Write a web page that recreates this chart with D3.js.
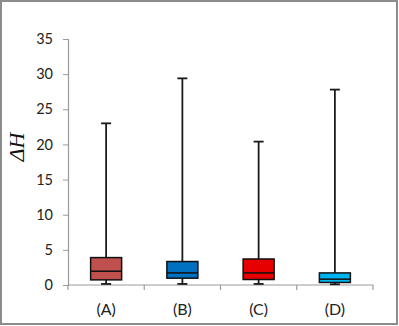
<!DOCTYPE html>
<html>
<head>
<meta charset="utf-8">
<script src="https://cdn.jsdelivr.net/npm/d3@7"></script>
<style>
  body { margin: 0; background: #fff; }
  text { font-family: Lato, "Open Sans", sans-serif; }
</style>
</head>
<body>
<div id="chart"></div>
<script>
// box plot stats
const categories = ["(A)", "(B)", "(C)", "(D)"];
const mins = [0.15, 0.15, 0.15, 0.1];
const q1s = [0.73, 0.97, 0.78, 0.36];
const medians = [1.96, 1.72, 1.72, 0.83];
const q3s = [3.9, 3.34, 3.7, 1.72];
const maxs = [23.0, 29.4, 20.4, 27.8];
const colors = ["#c0504d", "#0070c0", "#e60000", "#00b4f0"];
const yTicks = [0, 5, 10, 15, 20, 25, 30, 35];

const width = 399, height = 326;
const margin = { top: 39, right: 26, bottom: 41, left: 68 };

const svg = d3.select("#chart").append("svg")
  .attr("width", width)
  .attr("height", height);

// outer frame
svg.append("rect")
  .attr("x", 1).attr("y", 1)
  .attr("width", 396).attr("height", 323)
  .attr("fill", "#fff")
  .attr("stroke", "#8c8c8c")
  .attr("stroke-width", 2);

const x = d3.scaleBand()
  .domain(categories)
  .range([margin.left, width - margin.right]);

const y = d3.scaleLinear()
  .domain([0, 35])
  .range([height - margin.bottom, margin.top]);

// y axis
const yAxis = svg.append("g")
  .attr("transform", `translate(${margin.left},0)`)
  .call(d3.axisLeft(y).tickValues(yTicks).tickSize(5).tickPadding(10));
yAxis.select(".domain").attr("stroke", "#9a9a9a").attr("stroke-width", 1.2);
yAxis.selectAll(".tick line").attr("stroke", "#9a9a9a");
yAxis.selectAll(".tick text").attr("font-size", 14.5).attr("fill", "#222");

// x axis: ticks at band boundaries
const xAxisG = svg.append("g");
xAxisG.append("line")
  .attr("x1", margin.left).attr("x2", width - margin.right)
  .attr("y1", y(0)).attr("y2", y(0))
  .attr("stroke", "#9a9a9a").attr("stroke-width", 1.2);
const bounds = categories.map(c => x(c)).concat([width - margin.right]);
xAxisG.selectAll("line.tk")
  .data(bounds)
  .enter()
  .append("line")
  .attr("class", "tk")
  .attr("x1", d => d).attr("x2", d => d)
  .attr("y1", y(0)).attr("y2", y(0) + 5)
  .attr("stroke", "#9a9a9a").attr("stroke-width", 1.2);
xAxisG.selectAll("text")
  .data(categories)
  .enter()
  .append("text")
  .attr("x", d => x(d) + x.bandwidth() / 2)
  .attr("y", y(0) + 30)
  .attr("text-anchor", "middle")
  .attr("font-size", 16)
  .attr("fill", "#222")
  .text(d => d);

// y label
svg.append("text")
  .attr("transform", `translate(24,147) rotate(-90)`)
  .attr("text-anchor", "middle")
  .style("font-family", "'Liberation Serif', 'DejaVu Serif', serif")
  .style("font-style", "italic")
  .attr("font-size", 22)
  .attr("fill", "#111")
  .text("ΔH");

// boxes
const boxW = 31, capW = 10;
const g = svg.append("g");
categories.forEach((c, i) => {
  const cx = x(c) + x.bandwidth() / 2;
  // whisker
  g.append("line")
    .attr("x1", cx).attr("x2", cx)
    .attr("y1", y(maxs[i])).attr("y2", y(mins[i]))
    .attr("stroke", "#1a1a1a").attr("stroke-width", 1.8);
  [maxs[i], mins[i]].forEach(v => {
    g.append("line")
      .attr("x1", cx - capW / 2).attr("x2", cx + capW / 2)
      .attr("y1", y(v)).attr("y2", y(v))
      .attr("stroke", "#1a1a1a").attr("stroke-width", 1.8);
  });
  g.append("rect")
    .attr("x", cx - boxW / 2)
    .attr("y", y(q3s[i]))
    .attr("width", boxW)
    .attr("height", y(q1s[i]) - y(q3s[i]))
    .attr("fill", colors[i])
    .attr("stroke", "#111")
    .attr("stroke-width", 1.5);
  g.append("line")
    .attr("x1", cx - boxW / 2).attr("x2", cx + boxW / 2)
    .attr("y1", y(medians[i])).attr("y2", y(medians[i]))
    .attr("stroke", "#111").attr("stroke-width", 1.5);
});
</script>
</body>
</html>
